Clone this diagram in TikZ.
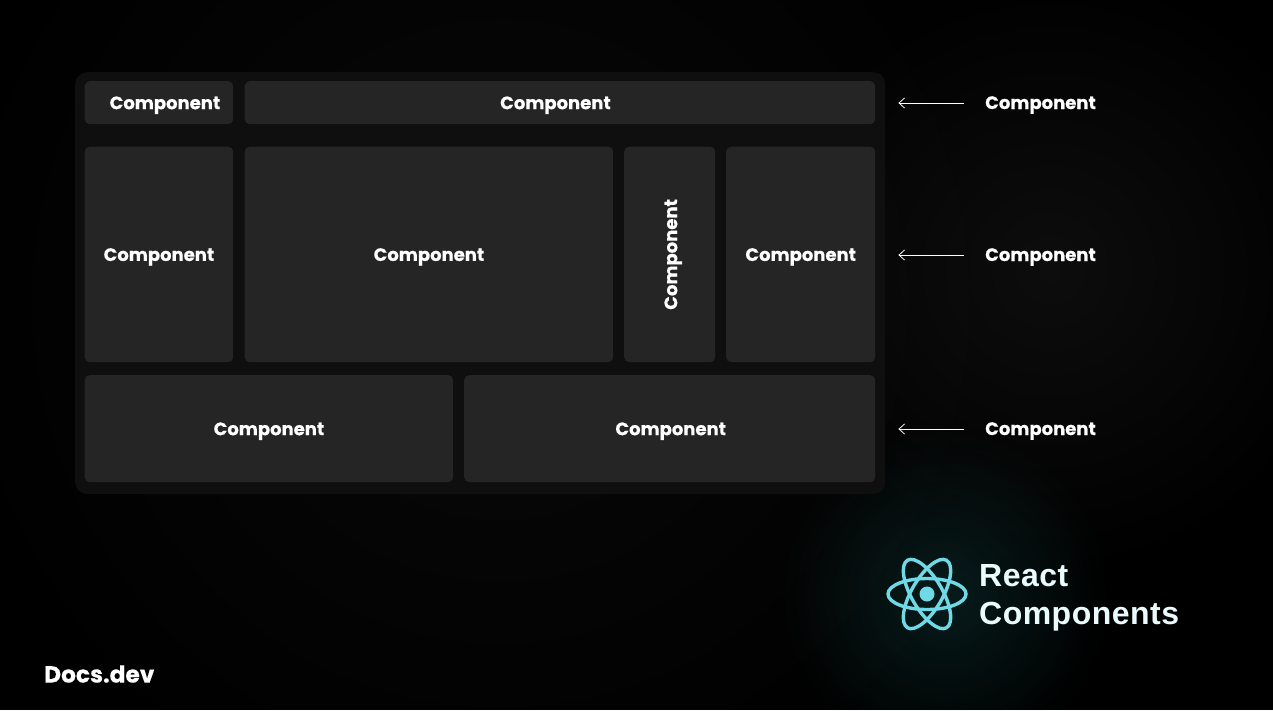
\documentclass[tikz,border=0pt]{standalone}
\usepackage{fontspec}
\usepackage{graphicx}
\setmainfont{Poppins}[BoldFeatures={FakeBold=0.35}]
\newfontfamily\reactfont{Liberation Sans}
\usetikzlibrary{fadings,arrows.meta}
\tikzfading[name=glowfade, inner color=transparent!0, outer color=transparent!100]
\definecolor{bgblack}{HTML}{000000}
\definecolor{framegray}{HTML}{0F0F0F}
\definecolor{boxgray}{HTML}{252525}
\definecolor{atomcyan}{HTML}{6FD9E6}
\definecolor{reacttext}{HTML}{E9FBFC}
\definecolor{glowteal}{HTML}{2FA3A3}
\tikzset{
  x=1pt,y=-1pt,
  compbox/.style n args={2}{fill=boxgray,rounded corners=5pt,minimum width=#1,minimum height=#2,inner sep=0pt,text=white,font=\bfseries\fontsize{18}{18}\selectfont,anchor=north west},
  metrics/.style={text height=14.5pt,text depth=1.5pt},
  sidelabel/.style={text=white,font=\bfseries\fontsize{18}{18}\selectfont,inner sep=0pt,anchor=west,text height=14pt,text depth=2pt},
  pointer/.style={draw=white,line width=0.9pt,-{Straight Barb[length=5.5pt,width=10pt,line width=0.8pt]},shorten <=21pt,shorten >=13pt},
  orbit/.style={draw=atomcyan,line width=3.4pt},
  reactlabel/.style={anchor=west,inner sep=0pt,text=reacttext,font=\reactfont\bfseries\fontsize{32}{32}\selectfont\addfontfeatures{LetterSpace=1.5},text height=24pt,text depth=0pt},
}
\begin{document}
\begin{tikzpicture}
\useasboundingbox (0,0) rectangle (1273,710);
\begin{scope}
\clip (0,0) rectangle (1273,710);
\fill[bgblack] (0,0) rectangle (1273,710);
\fill[color=white,opacity=0.05,path fading=glowfade] (1050,270) circle (300);
\fill[color=white,opacity=0.035,path fading=glowfade] (500,300) circle (560);
\fill[color=glowteal,opacity=0.17,path fading=glowfade] (945,595) circle (165);
\end{scope}
\node[fill=framegray,rounded corners=12pt,minimum width=810pt,minimum height=422pt,inner sep=0pt,anchor=north west] (frame) at (75,72) {};
\node[compbox={148.5pt}{43pt},metrics] (a1) at (84.5,81) {\hspace{12pt}Component};
\node[compbox={630.5pt}{43pt},metrics] (a2) at (244.5,81) {Component\hspace{9pt}\mbox{}};
\node[compbox={148.5pt}{215.5pt},metrics] (b1) at (84.5,146.5) {Component};
\node[compbox={368.5pt}{215.5pt},metrics] (b2) at (244.5,146.5) {Component};
\node[compbox={91pt}{215.5pt}] (b3) at (624,146.5) {\hspace{7pt}\rotatebox{90}{Component}};
\node[compbox={149pt}{215.5pt},metrics] (b4) at (726,146.5) {Component};
\node[compbox={368.5pt}{107pt},metrics] (c1) at (84.5,375) {Component};
\node[compbox={411pt}{107pt},metrics] (c2) at (464,375) {\hspace{2pt}Component};
\node[sidelabel] (l1) at (985,103) {Component};
\node[sidelabel] (l2) at (985,255) {Component};
\node[sidelabel] (l3) at (985,429) {Component};
\draw[pointer] (l1.west) -- (l1.west -| frame.east);
\draw[pointer] (l2.west) -- (l2.west -| frame.east);
\draw[pointer] (l3.west) -- (l3.west -| frame.east);
\coordinate (atom) at (927,594);
\draw[orbit] (atom) ellipse (39 and 15.5);
\draw[orbit,rotate around={60:(atom)}] (atom) ellipse (39 and 15.5);
\draw[orbit,rotate around={-60:(atom)}] (atom) ellipse (39 and 15.5);
\fill[atomcyan] (atom) circle (7.5);
\node[reactlabel] (r1) at (979,574) {React};
\node[reactlabel] (r2) at (979,612) {Components};
\node[anchor=west,inner sep=0pt,text=white,font=\bfseries\fontsize{23.3}{23.3}\selectfont] (docs) at (44,674) {Docs.dev};
\end{tikzpicture}
\end{document}
